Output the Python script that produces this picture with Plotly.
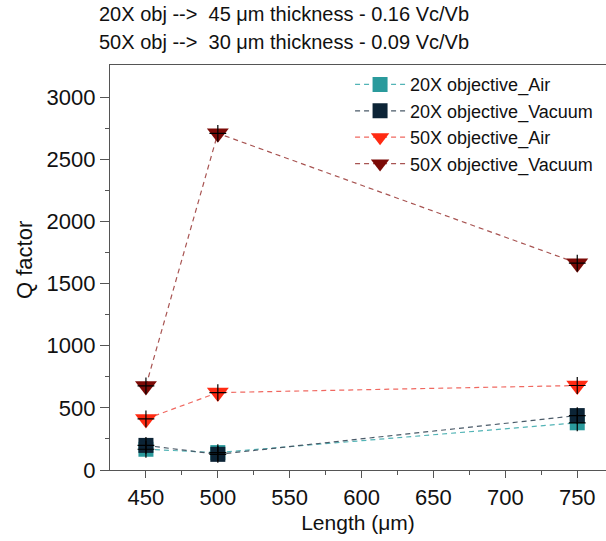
import plotly.graph_objects as go

# Resonator length (um) and measured Q factors
length_um = [450, 500, 750]
q_20x_air = [167, 140, 380]
q_20x_vacuum = [198, 126, 438]
q_50x_air = [411, 623, 680]
q_50x_vacuum = [677, 2710, 1665]

series_names = ["20X objective_Air", "20X objective_Vacuum",
                "50X objective_Air", "50X objective_Vacuum"]
series_values = [q_20x_air, q_20x_vacuum, q_50x_air, q_50x_vacuum]

marker_colors = ["#2a9a9c", "#0c2436", "#ff2a12", "#7c0a06"]
line_colors = ["#52b4b6", "#4a5a68", "#f06860", "#a85452"]
symbols = ["square", "square", "triangle-down", "triangle-down"]
sizes = [15, 15, 19, 19]

FONT = "Liberation Sans, Arial, sans-serif"

fig = go.Figure()

for name, vals, mc, lc, sym, sz in zip(series_names, series_values,
                                       marker_colors, line_colors, symbols, sizes):
    fig.add_trace(go.Scatter(
        x=length_um, y=vals, name=name, mode="lines+markers",
        line=dict(color=lc, width=1.2, dash="5px,4px"),
        marker=dict(symbol=sym, size=sz, color=mc, line=dict(width=0)),
    ))

# thin black crosshair at each data point
for vals in series_values:
    fig.add_trace(go.Scatter(
        x=length_um, y=vals, mode="markers", showlegend=False, hoverinfo="skip",
        marker=dict(symbol="cross-thin", size=12, color="black",
                    line=dict(color="black", width=1.2)),
    ))

axis_common = dict(
    showline=True, linecolor="#555555", linewidth=1.3,
    ticks="outside", tickwidth=1.2, tickcolor="#555555",
    showgrid=False, zeroline=False,
    tickfont=dict(family=FONT, size=22, color="#111111"),
)

fig.update_layout(
    width=606, height=541,
    margin=dict(l=110, r=0, t=65, b=71),
    paper_bgcolor="white", plot_bgcolor="white",
    font=dict(family=FONT, color="#111111"),
    xaxis=dict(
        range=[425, 770], tickvals=[450, 500, 550, 600, 650, 700, 750],
        mirror=True, ticklen=7,
        minor=dict(tickvals=[475, 525, 575, 625, 675, 725], ticks="outside",
                   ticklen=4, tickwidth=1, tickcolor="#555555"),
        title=dict(text="Length (μm)", font=dict(family=FONT, size=21), standoff=6),
        **axis_common,
    ),
    yaxis=dict(
        range=[0, 3260], tickvals=[0, 500, 1000, 1500, 2000, 2500, 3000],
        ticklen=9,
        minor=dict(tickvals=[250, 750, 1250, 1750, 2250, 2750], ticks="outside",
                   ticklen=4, tickwidth=1, tickcolor="#555555"),
        **axis_common,
    ),
    legend=dict(
        x=0.484, y=0.997, xanchor="left", yanchor="top",
        bgcolor="rgba(0,0,0,0)", borderwidth=0,
        font=dict(family=FONT, size=18, color="#111111"),
        itemwidth=50, tracegroupgap=0,
    ),
    showlegend=True,
)

# y-axis title, placed slightly above the plot's vertical centre
fig.add_annotation(
    text="Q factor", textangle=-90, xref="paper", yref="paper",
    x=-0.1734, y=0.5185, xanchor="center", yanchor="middle", showarrow=False,
    font=dict(family=FONT, size=22, color="#111111"),
)

header_lines = [
    "20X obj -->  45 μm thickness - 0.16 Vc/Vb",
    "50X obj -->  30 μm thickness - 0.09 Vc/Vb",
]
for i, txt in enumerate(header_lines):
    fig.add_annotation(
        text=txt, xref="paper", yref="paper", x=-0.026, y=1 + (51 - 28 * i) / 405,
        xanchor="left", yanchor="middle", showarrow=False,
        font=dict(family=FONT, size=20, color="#111111"),
    )

fig.write_html("out.html")
